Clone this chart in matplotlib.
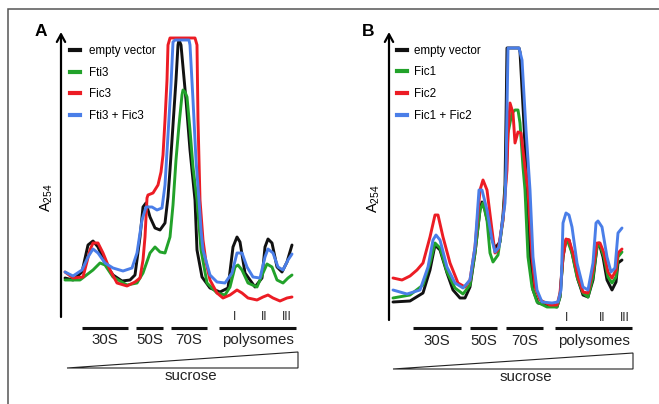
import matplotlib
matplotlib.use("Agg")
import matplotlib.pyplot as plt
from matplotlib.lines import Line2D
from matplotlib.patches import Polygon, Rectangle

plt.rcParams['font.family'] = ['Liberation Sans', 'DejaVu Sans']
plt.rcParams['mathtext.fontset'] = 'custom'
plt.rcParams['mathtext.rm'] = 'Liberation Sans'
plt.rcParams['mathtext.it'] = 'Liberation Sans:italic'

W, H = 659, 404

# ---- panel A: gradient position vs A254 (arbitrary units) ----
a_names = ['empty vector', 'Fti3', 'Fic3', 'Fti3 + Fic3']
a_black_x = [4, 12, 21, 27, 32, 37, 44, 52, 61, 69, 74, 79, 82, 85, 89, 94, 99, 104, 107, 109,
             112, 115, 117, 118, 120, 125, 129, 134, 136, 141, 149, 159, 167, 172, 176, 179, 184,
             194, 201, 204, 207, 211, 216, 221, 226, 231]
a_black_y = [39, 37, 45, 72, 76, 70, 54, 42, 36, 37, 42, 80, 110, 114, 100, 89, 87, 94, 120, 147,
             192, 237, 272, 277, 272, 217, 167, 117, 67, 40, 29, 25, 29, 70, 80, 75, 44,
             30, 39, 70, 78, 74, 50, 45, 55, 72]
a_green_x = [4, 19, 32, 39, 44, 52, 66, 76, 82, 89, 94, 99, 104, 109, 112, 115, 118, 121, 122, 124,
             126, 129, 132, 136, 140, 146, 156, 164, 169, 174, 177, 181, 187, 196, 202, 206, 211,
             216, 222, 227, 231]
a_green_y = [37, 37, 47, 54, 52, 40, 32, 34, 44, 64, 70, 65, 64, 80, 112, 157, 192, 222, 227, 225,
             220, 187, 150, 117, 67, 34, 24, 22, 30, 50, 52, 47, 34, 30, 44, 53, 50,
             37, 34, 39, 42]
a_red_x = [4, 12, 22, 29, 32, 37, 42, 49, 56, 66, 74, 79, 82, 84, 86, 87, 92, 97, 100, 102,
           104, 106, 107, 109, 134, 136, 137, 139, 142, 145, 149, 156, 162, 169, 176, 181, 187,
           196, 202, 207, 212, 219, 226, 231]
a_red_y = [45, 39, 40, 67, 74, 74, 64, 47, 34, 31, 35, 39, 57, 80, 119, 122, 124, 132, 145, 162,
           197, 237, 272, 279, 279, 272, 197, 117, 77, 55, 37, 24, 19, 22, 27, 24, 19,
           17, 20, 22, 19, 16, 19, 20]
a_blue_x = [4, 12, 21, 27, 32, 37, 44, 52, 62, 71, 76, 81, 85, 91, 96, 101, 104, 107, 110, 112,
            114, 128, 129, 132, 135, 138, 140, 142, 149, 156, 164, 171, 176, 181, 186, 192, 199,
            204, 207, 212, 217, 222, 227, 231]
a_blue_y = [45, 41, 47, 60, 68, 64, 54, 49, 46, 49, 64, 97, 110, 110, 107, 109, 132, 182, 232, 275,
            277, 277, 272, 217, 157, 117, 87, 67, 42, 35, 34, 44, 64, 64, 50, 40, 39,
            60, 68, 64, 50, 47, 57, 63]

# ---- panel B ----
b_names = ['empty vector', 'Fic1', 'Fic2', 'Fic1 + Fic2']
b_black_x = [4, 21, 34, 41, 46, 51, 58, 64, 71, 76, 81, 86, 91, 93, 96, 101, 106, 111, 114, 116,
             117, 118, 130, 131, 135, 138, 141, 144, 149, 158, 168, 171, 174, 177, 180, 184, 189,
             194, 199, 204, 208, 210, 214, 218, 223, 227, 229, 233]
b_black_y = [18, 19, 27, 50, 75, 70, 47, 30, 22, 22, 33, 67, 110, 118, 110, 87, 72, 78, 105, 135,
             200, 272, 272, 268, 195, 130, 63, 30, 17, 15, 13, 23, 63, 80, 80, 63, 40,
             25, 23, 40, 73, 77, 63, 40, 30, 38, 57, 60]
b_green_x = [4, 21, 34, 41, 46, 51, 58, 66, 74, 81, 86, 91, 94, 98, 101, 104, 109, 114, 117, 119,
             123, 126, 129, 131, 134, 136, 139, 143, 148, 158, 168, 171, 174, 176, 179, 183, 188,
             194, 199, 204, 208, 211, 215, 219, 223, 227, 229, 233]
b_green_y = [22, 25, 35, 57, 77, 72, 48, 32, 26, 35, 67, 110, 117, 100, 67, 58, 65, 100, 143, 187,
             207, 210, 210, 197, 153, 130, 63, 33, 18, 13, 13, 23, 63, 77, 78, 67, 43,
             27, 23, 43, 73, 75, 63, 43, 37, 43, 63, 68]
b_red_x = [4, 13, 21, 28, 34, 41, 46, 49, 54, 61, 69, 76, 81, 86, 91, 94, 98, 103, 106, 109,
           114, 118, 119, 121, 124, 126, 129, 132, 136, 139, 143, 146, 151, 161, 168, 171, 174,
           177, 180, 184, 189, 194, 199, 204, 208, 211, 215, 219, 223, 227, 229, 233]
b_red_y = [42, 40, 44, 50, 57, 83, 105, 105, 83, 57, 37, 33, 40, 73, 130, 140, 130, 90, 67, 70,
           100, 150, 185, 217, 207, 177, 188, 187, 153, 130, 63, 33, 20, 15, 15, 27, 63,
           81, 80, 67, 43, 28, 27, 50, 77, 77, 67, 48, 42, 50, 67, 71]
b_blue_x = [4, 18, 31, 39, 44, 47, 51, 58, 66, 74, 81, 86, 90, 93, 98, 103, 106, 110, 116, 117,
            119, 130, 133, 137, 141, 144, 148, 153, 163, 169, 172, 174, 177, 180, 183, 188, 194,
            199, 204, 207, 209, 213, 218, 222, 226, 229, 233]
b_blue_y = [30, 26, 30, 53, 80, 85, 80, 53, 37, 32, 40, 73, 130, 130, 110, 80, 68, 73, 117, 150,
            272, 272, 260, 190, 130, 63, 30, 18, 17, 18, 30, 97, 107, 105, 93, 57, 33,
            30, 57, 97, 99, 93, 63, 48, 52, 87, 92]

fractions = ['30S', '50S', '70S', 'polysomes']
polysome_peaks = ['I', 'II', 'III']

colors = ['#111111', '#22a22a', '#ec1c24', '#4a7ee8']


def draw_panel(fig, rect, xmax, ymax, curves, names, letter, frac_spans, frac_y,
               peak_pos, legend_anchor, handle_pad):
    ax = fig.add_axes(rect)
    ax.set_xlim(0, xmax)
    ax.set_ylim(0, ymax)
    ax.axis('off')

    for (xs, ys), c in zip(curves, colors):
        ax.plot(xs, ys, color=c, lw=2.1, solid_joinstyle='round', solid_capstyle='round',
                clip_on=False)

    # y axis arrow
    ax.annotate('', xy=(0, 1), xytext=(0, 0), xycoords='axes fraction',
                arrowprops=dict(arrowstyle='->,head_length=0.55,head_width=0.3',
                                lw=1.6, color='black', shrinkA=0, shrinkB=0))
    ax.text(-0.085, 1.0, letter, transform=ax.transAxes, fontsize=12.5,
            fontweight='bold', ha='center', va='center')
    ax.text(-0.06, 0.42, r'A$_{\mathrm{254}}$', transform=ax.transAxes, fontsize=10.5,
            rotation=90, ha='center', va='center')

    handles = [Line2D([], [], color=c, lw=3) for c in colors]
    ax.legend(handles, names, loc='upper left', bbox_to_anchor=legend_anchor,
              frameon=False, fontsize=8.4, handlelength=0.86, handletextpad=handle_pad,
              labelspacing=0.84, borderpad=0, borderaxespad=0)

    # fraction bars and labels under the profile
    bar_y, lab_y = frac_y
    for (x0, x1), name in zip(frac_spans, fractions):
        ax.plot([x0, x1], [bar_y, bar_y], color='#111111', lw=2.2, clip_on=False,
                solid_capstyle='butt')
        ax.text((x0 + x1) / 2, lab_y, name, fontsize=10.8, ha='center', va='center',
                color='#222222')
    px, py = peak_pos
    for x, s in zip(px, polysome_peaks):
        ax.text(x, py, s, fontsize=8.5, ha='center', va='center', color='#222222')
    return ax


fig = plt.figure(figsize=(W / 100, H / 100), dpi=100)

border = Rectangle((7.5 / W, -0.05), 1.2, 1 - 8.5 / H + 0.05, transform=fig.transFigure,
                   fill=False, edgecolor='#555555', lw=1.1)
fig.patches.append(border)

ax_a = draw_panel(fig, [61 / W, 1 - 317 / H, 239 / W, 285 / H], 239, 285,
                  [(a_black_x, a_black_y), (a_green_x, a_green_y),
                   (a_red_x, a_red_y), (a_blue_x, a_blue_y)],
                  a_names, 'A',
                  [(21, 67), (75, 102), (110, 146), (158, 235)], (-11, -23),
                  ([174, 203, 226], 0), (0.038, 0.955), 0.77)
ax_a.add_patch(Polygon([(6, -51), (237, -35), (237, -51)], closed=True, fill=False,
                       edgecolor='#222222', lw=0.8, clip_on=False))
ax_a.text(130, -59, 'sucrose', fontsize=10.8, ha='center', va='center', color='#222222')

ax_b = draw_panel(fig, [389 / W, 1 - 320 / H, 245 / W, 288 / H], 245, 288,
                  [(b_black_x, b_black_y), (b_green_x, b_green_y),
                   (b_red_x, b_red_y), (b_blue_x, b_blue_y)],
                  b_names, 'B',
                  [(24, 72), (81, 108), (117, 154), (166, 243)], (-8, -21),
                  ([178, 213, 236], 2), (0.033, 0.956), 0.6)
ax_b.add_patch(Polygon([(4, -49), (244, -33), (244, -49)], closed=True, fill=False,
                       edgecolor='#222222', lw=0.8, clip_on=False))
ax_b.text(137, -57, 'sucrose', fontsize=10.8, ha='center', va='center', color='#222222')

fig.savefig('out.png', dpi=100)
